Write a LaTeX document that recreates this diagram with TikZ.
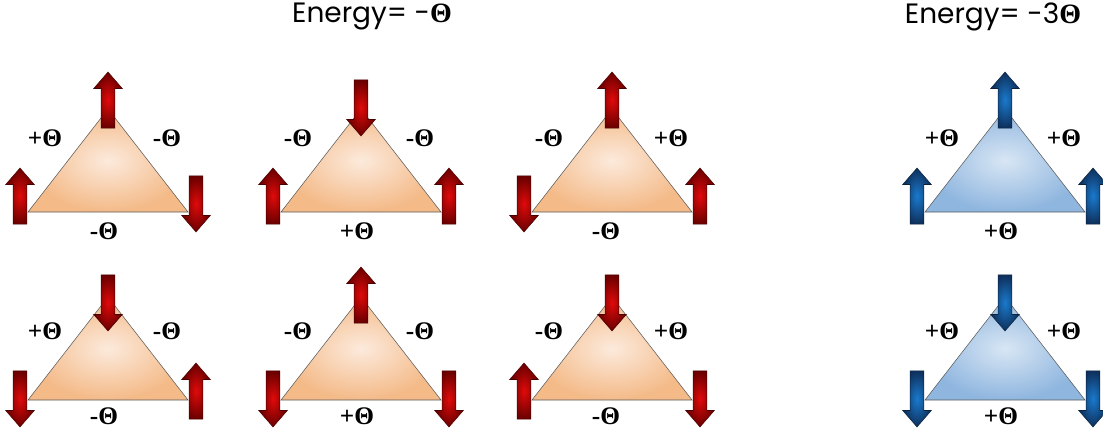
\documentclass[tikz,border=0pt]{standalone}
\usepackage{fontspec}
\setmainfont{Liberation Serif}
\newfontfamily\titlefont{Poppins}
\usepackage{tikz}
\usetikzlibrary{shapes.arrows}
\definecolor{TriOrange}{HTML}{F4BA88}
\definecolor{TriCream}{HTML}{FCEADC}
\definecolor{TriBlue}{HTML}{8FB6DF}
\definecolor{TriIce}{HTML}{D8E6F4}
\definecolor{SpinRed}{HTML}{E00A0A}
\definecolor{SpinMaroon}{HTML}{6A0000}
\definecolor{SpinBlue}{HTML}{1A7ACD}
\definecolor{SpinNavy}{HTML}{0E305C}

\begin{document}
\begin{tikzpicture}[
  x=0.75pt, y=-0.75pt,
  redtri/.style={draw=black!65, thin, inner color=TriCream, outer color=TriOrange},
  bluetri/.style={draw=black!65, thin, inner color=TriIce, outer color=TriBlue},
  spin/.style={single arrow, minimum height=42pt, inner sep=0pt, inner ysep=4.9pt, single arrow head extend=5.6pt, single arrow tip angle=82, thin},
  redspin/.style={spin, draw=SpinMaroon!70!black, inner color=SpinRed, outer color=SpinMaroon},
  bluespin/.style={spin, draw=SpinNavy!70!black, inner color=SpinBlue, outer color=SpinNavy},
  pointup/.style={rotate=90},
  pointdown/.style={rotate=-90},
  bond/.style={font=\bfseries\fontsize{19}{19}\selectfont, inner sep=0pt},
  heading/.style={font=\titlefont\fontsize{21}{21}\selectfont, inner sep=0pt}
]
\useasboundingbox (0,0) rectangle (1103,435);

% headings
\node[heading] (h1) at (372,17) {Energy= -{\rmfamily\bfseries Θ}};
\node[heading] (h2) at (993,17) {Energy= -3{\rmfamily\bfseries Θ}};

% row 1
\coordinate (t11l) at (28,212); \coordinate (t11t) at (108,109); \coordinate (t11r) at (188,212);
\coordinate (t12l) at (281,212); \coordinate (t12t) at (361,109); \coordinate (t12r) at (441,212);
\coordinate (t13l) at (532,212); \coordinate (t13t) at (612,109); \coordinate (t13r) at (692,212);
\coordinate (t14l) at (925,212); \coordinate (t14t) at (1005,109); \coordinate (t14r) at (1085,212);
\draw[redtri] (t11l) -- (t11t) -- (t11r) -- cycle;
\draw[redtri] (t12l) -- (t12t) -- (t12r) -- cycle;
\draw[redtri] (t13l) -- (t13t) -- (t13r) -- cycle;
\draw[bluetri] (t14l) -- (t14t) -- (t14r) -- cycle;

\node[redspin, pointup] (u11l) at (20,200) {};
\node[redspin, pointup] (u11t) at (108,104) {};
\node[redspin, pointdown] (u11r) at (196,200) {};
\node[redspin, pointup] (u12l) at (273,200) {};
\node[redspin, pointdown] (u12t) at (361,104) {};
\node[redspin, pointup] (u12r) at (449,200) {};
\node[redspin, pointdown] (u13l) at (524,200) {};
\node[redspin, pointup] (u13t) at (612,104) {};
\node[redspin, pointup] (u13r) at (700,200) {};
\node[bluespin, pointup] (u14l) at (917,200) {};
\node[bluespin, pointup] (u14t) at (1005,104) {};
\node[bluespin, pointup] (u14r) at (1093,200) {};

\node[bond] (e11l) at (45,138) {+Θ};
\node[bond] (e11r) at (167,138) {-Θ};
\node[bond] (e11b) at (104,231) {-Θ};
\node[bond] (e12l) at (298,138) {-Θ};
\node[bond] (e12r) at (420,138) {-Θ};
\node[bond] (e12b) at (357,231) {+Θ};
\node[bond] (e13l) at (549,138) {-Θ};
\node[bond] (e13r) at (671,138) {+Θ};
\node[bond] (e13b) at (606,231) {-Θ};
\node[bond] (e14l) at (942,138) {+Θ};
\node[bond] (e14r) at (1064,138) {+Θ};
\node[bond] (e14b) at (1001,231) {+Θ};

% row 2
\coordinate (t21l) at (28,400); \coordinate (t21t) at (108,297); \coordinate (t21r) at (188,400);
\coordinate (t22l) at (281,400); \coordinate (t22t) at (361,297); \coordinate (t22r) at (441,400);
\coordinate (t23l) at (532,400); \coordinate (t23t) at (612,297); \coordinate (t23r) at (692,400);
\coordinate (t24l) at (925,400); \coordinate (t24t) at (1005,297); \coordinate (t24r) at (1085,400);
\draw[redtri] (t21l) -- (t21t) -- (t21r) -- cycle;
\draw[redtri] (t22l) -- (t22t) -- (t22r) -- cycle;
\draw[redtri] (t23l) -- (t23t) -- (t23r) -- cycle;
\draw[bluetri] (t24l) -- (t24t) -- (t24r) -- cycle;

\node[redspin, pointdown] (u21l) at (20,395) {};
\node[redspin, pointdown] (u21t) at (108,299) {};
\node[redspin, pointup] (u21r) at (196,395) {};
\node[redspin, pointdown] (u22l) at (273,395) {};
\node[redspin, pointup] (u22t) at (361,299) {};
\node[redspin, pointdown] (u22r) at (449,395) {};
\node[redspin, pointup] (u23l) at (524,395) {};
\node[redspin, pointdown] (u23t) at (612,299) {};
\node[redspin, pointdown] (u23r) at (700,395) {};
\node[bluespin, pointdown] (u24l) at (917,395) {};
\node[bluespin, pointdown] (u24t) at (1005,299) {};
\node[bluespin, pointdown] (u24r) at (1093,395) {};

\node[bond] (e21l) at (45,331) {+Θ};
\node[bond] (e21r) at (167,331) {-Θ};
\node[bond] (e21b) at (104,416) {-Θ};
\node[bond] (e22l) at (298,331) {-Θ};
\node[bond] (e22r) at (420,331) {-Θ};
\node[bond] (e22b) at (357,416) {+Θ};
\node[bond] (e23l) at (549,331) {-Θ};
\node[bond] (e23r) at (671,331) {+Θ};
\node[bond] (e23b) at (606,416) {-Θ};
\node[bond] (e24l) at (942,331) {+Θ};
\node[bond] (e24r) at (1064,331) {+Θ};
\node[bond] (e24b) at (1001,416) {+Θ};
\end{tikzpicture}
\end{document}
